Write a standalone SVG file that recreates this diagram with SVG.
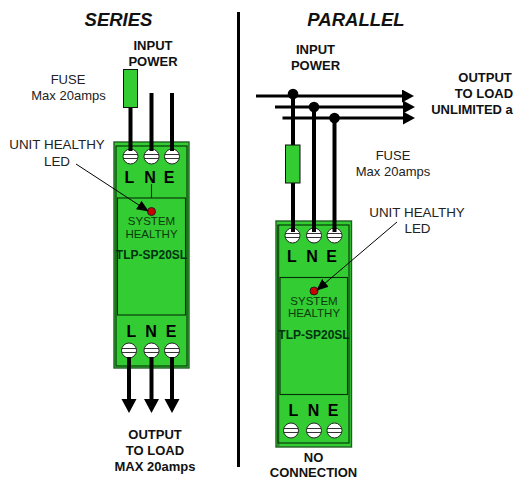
<svg xmlns="http://www.w3.org/2000/svg" width="514" height="479" viewBox="0 0 514 479">
<style>
text{font-family:"Liberation Sans",Arial,sans-serif;fill:#111;text-anchor:middle}
.h{font-size:18.500px;font-weight:bold;font-style:italic}
.b{font-size:13px;font-weight:bold}
.n{font-size:13px;fill:#222}
.u{font-size:13.400px;fill:#222}
.s{font-size:11.500px;fill:#0b3b0b}
.m{font-size:12px;font-weight:bold;fill:#031}
.t{font-size:16px;font-weight:bold;fill:#000}
.g{fill:#33cc33;stroke:#235f23;stroke-width:1.4}
.p{fill:none;stroke:#063006;stroke-width:1.1}
.w{fill:none;stroke:#000;stroke-width:4}
.x{fill:none;stroke:#000;stroke-width:3}
.l{fill:none;stroke:#000;stroke-width:1}
.f{fill:#33cc33;stroke:#111;stroke-width:1}
</style>
<defs>
<g id="screw"><circle r="7.5" fill="#fff" stroke="#222" stroke-width="1"/><path d="M-7 -2H7M-7 2H7" stroke="#333" stroke-width="1.2" fill="none"/></g>
<marker id="tip" markerUnits="userSpaceOnUse" markerWidth="14" markerHeight="12" refX="11" refY="5" orient="auto"><path d="M0 0L12 5L0 10Z" fill="#000"/></marker>
<marker id="bus" markerUnits="userSpaceOnUse" markerWidth="13" markerHeight="14" refX="1" refY="6.500" orient="auto"><path d="M0 0L12 6.500L0 13Z" fill="#000"/></marker>
<marker id="out" markerUnits="userSpaceOnUse" markerWidth="15" markerHeight="16" refX="1" refY="7.500" orient="auto"><path d="M0 0L14 7.500L0 15Z" fill="#000"/></marker>
</defs>
<rect width="514" height="479" fill="#fff"/>
<g id="titles">
<text class="h" x="118.500" y="26">SERIES</text>
<text class="h" x="356" y="26">PARALLEL</text>
<path d="M238.500 12V467" stroke="#000" stroke-width="3" fill="none"/>
</g>
<g id="series-unit">
<rect class="g" x="114" y="142" width="75" height="226"/>
<rect class="p" x="116" y="146" width="71" height="220"/>
<rect class="p" x="117.500" y="198" width="68" height="117"/>
<path class="p" d="M151.500 184V198"/>
<use href="#screw" x="130.500" y="156.500"/><use href="#screw" x="151.500" y="156.500"/><use href="#screw" x="172" y="156.500"/>
<use href="#screw" x="129" y="350.500"/><use href="#screw" x="151.500" y="350.500"/><use href="#screw" x="172" y="350.500"/>
<text class="t" x="129.500" y="183">L</text><text class="t" x="150" y="183">N</text><text class="t" x="169" y="183">E</text>
<text class="t" x="131.500" y="337">L</text><text class="t" x="151" y="337">N</text><text class="t" x="171" y="337">E</text>
<circle cx="151.500" cy="211.500" r="4" fill="#cc0000" stroke="#222"/>
<text class="s" x="151.500" y="225">SYSTEM</text><text class="s" x="151.500" y="238">HEALTHY</text>
<text class="m" x="151.500" y="259">TLP-SP20SL</text>
</g>
<g id="parallel-unit">
<rect class="g" x="276" y="221" width="75.500" height="226"/>
<rect x="276.500" y="225" width="3" height="221" fill="#2a8f2a"/>
<rect class="p" x="278" y="225" width="71" height="218"/>
<rect class="p" x="280" y="277.500" width="67.500" height="117"/>
<use href="#screw" x="292.500" y="235.500"/><use href="#screw" x="314" y="235.500"/><use href="#screw" x="334.500" y="235.500"/>
<use href="#screw" x="291" y="430.500"/><use href="#screw" x="314" y="430.500"/><use href="#screw" x="334.500" y="430.500"/>
<text class="t" x="292" y="262">L</text><text class="t" x="312" y="262">N</text><text class="t" x="331.500" y="262">E</text>
<text class="t" x="293.500" y="416">L</text><text class="t" x="313.500" y="416">N</text><text class="t" x="333" y="416">E</text>
<circle cx="314" cy="291" r="4" fill="#cc0000" stroke="#222"/>
<text class="s" x="314" y="305">SYSTEM</text><text class="s" x="314" y="317">HEALTHY</text>
<text class="m" x="314" y="339">TLP-SP20SL</text>
</g>
<g id="connectors">
<path class="w" d="M130.500 107V151M151.500 93V151M172 93V151"/>
<path class="w" d="M129 357V400" marker-end="url(#out)"/>
<path class="w" d="M151.500 357V400" marker-end="url(#out)"/>
<path class="w" d="M172 357V400" marker-end="url(#out)"/>
<path class="l" d="M76 164L148 211" marker-end="url(#tip)"/>
<path class="w" d="M293 94V232M314 107V232M334.500 118V232"/>
<path class="x" d="M256 96H403" marker-end="url(#bus)"/>
<path class="x" d="M275 107H404" marker-end="url(#bus)"/>
<path class="x" d="M282.500 118H404" marker-end="url(#bus)"/>
<circle cx="293" cy="94" r="5.300"/><circle cx="314" cy="107" r="5.300"/><circle cx="334.500" cy="118" r="5.300"/>
<path class="l" d="M397 222L317 290" marker-end="url(#tip)"/>
</g>
<g id="fuse-series"><rect class="f" x="123.500" y="69.500" width="14" height="38"/></g>
<g id="fuse-parallel"><rect class="f" x="285.500" y="145" width="14.500" height="38"/></g>
<g id="labels">
<text class="b" x="153" y="50">INPUT</text><text class="b" x="153" y="66">POWER</text>
<text class="n" x="68" y="84">FUSE</text><text class="n" x="68.500" y="100">Max 20amps</text>
<text class="u" x="57" y="149">UNIT HEALTHY</text><text class="u" x="57" y="166">LED</text>
<text class="b" x="155" y="439">OUTPUT</text><text class="b" x="155" y="455">TO LOAD</text><text class="b" x="155" y="471">MAX 20amps</text>
<text class="b" x="315.500" y="54">INPUT</text><text class="b" x="315.500" y="70">POWER</text>
<text class="b" x="485" y="82">OUTPUT</text><text class="b" x="484" y="98">TO LOAD</text><text class="b" x="472" y="114">UNLIMITED a</text>
<text class="n" x="393" y="160">FUSE</text><text class="n" x="393" y="176">Max 20amps</text>
<text class="u" x="417" y="217">UNIT HEALTHY</text><text class="u" x="417.500" y="233">LED</text>
<text class="b" x="313.500" y="462">NO</text><text class="b" x="313.500" y="477">CONNECTION</text>
</g>
</svg>
